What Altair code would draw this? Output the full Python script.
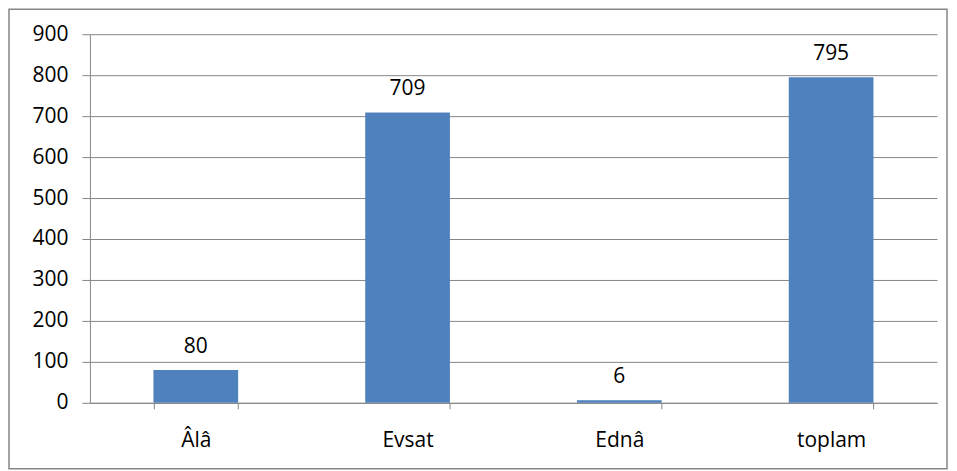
import altair as alt
import pandas as pd

categories = ["Âlâ", "Evsat", "Ednâ", "toplam"]
values = [80, 709, 6, 795]

df = pd.DataFrame({"cat": categories, "val": values})

W, H = 848, 369
FONT = "Open Sans"
FS = 21
GRAY = "#868686"

base = alt.Chart(df)

bars = base.mark_bar(color="#4F81BD").encode(
    x=alt.X("cat:N", sort=categories, title=None,
            scale=alt.Scale(paddingInner=0.6, paddingOuter=0.3),
            axis=alt.Axis(labelAngle=0, tickBand="extent", tickSize=6,
                          labelPadding=21, labelFontSize=FS, labelFont=FONT,
                          labelColor="#000000", domainColor=GRAY, tickColor=GRAY,
                          grid=False)),
    y=alt.Y("val:Q", title=None,
            scale=alt.Scale(domain=[0, 900], nice=False),
            axis=alt.Axis(values=list(range(0, 1000, 100)), tickSize=8,
                          labelPadding=14, labelFontSize=FS, labelFont=FONT,
                          labelColor="#000000", domainColor=GRAY, tickColor=GRAY,
                          gridColor=GRAY, grid=True)),
)

labels = base.mark_text(baseline="bottom", dy=-13, fontSize=FS, font=FONT,
                        color="#000000").encode(
    x=alt.X("cat:N", sort=categories),
    y="val:Q",
    text="val:Q",
)

border = alt.Chart(pd.DataFrame({"a": [0]})).mark_rect(
    fill=None, stroke=GRAY, strokeWidth=1.5
).encode(
    x=alt.value(-81), x2=alt.value(W + 10),
    y=alt.value(-25), y2=alt.value(H + 66),
)

chart = alt.layer(bars, labels, border).properties(
    width=W, height=H,
    autosize=alt.AutoSizeParams(type="none"),
    padding={"left": 82, "top": 26, "right": 12, "bottom": 70},
    background="white",
).configure_view(stroke=None)

chart.save("out.html", embed_options={"renderer": "svg", "actions": False})
